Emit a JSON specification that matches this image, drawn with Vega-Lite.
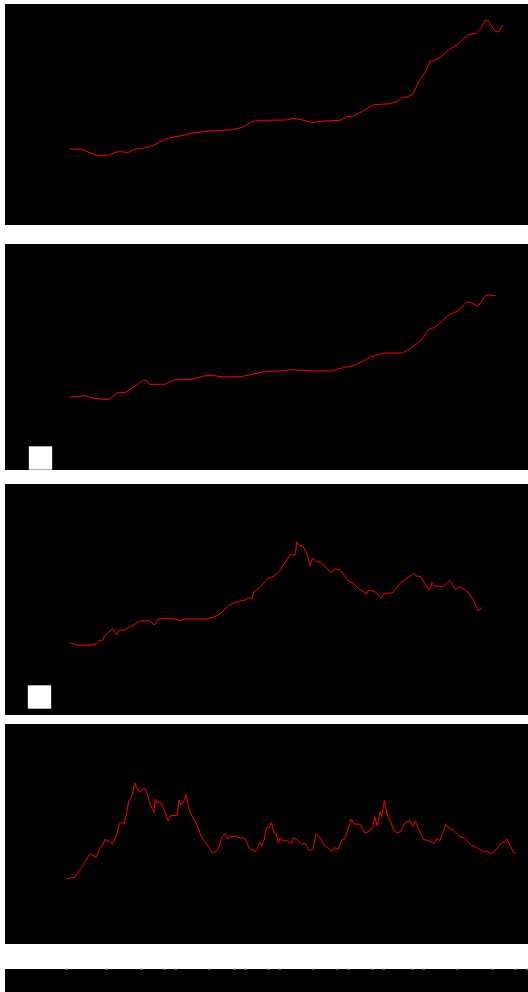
{
  "$schema": "https://vega.github.io/schema/vega-lite/v6.json",
  "background": "white",
  "padding": {"left": 5, "top": 4, "right": 0, "bottom": 0},
  "config": {"view": {"stroke": null, "fill": "black"}},
  "datasets": {
    "p1": [
      {"t":64.7,"v":76},{"t":75.8,"v":76},{"t":92.6,"v":69.3},{"t":102.1,"v":69.3},{"t":111.2,"v":73},{"t":116.2,"v":73.3},{"t":122.9,"v":72.3},{"t":129.7,"v":75.7},{"t":139.8,"v":77},{"t":149.9,"v":80.3},{"t":160,"v":86},{"t":170.1,"v":88.3},{"t":180.2,"v":90},{"t":186.9,"v":91.7},{"t":203.8,"v":94},{"t":227.3,"v":95.3},{"t":237.4,"v":97.7},{"t":247.5,"v":103.7},{"t":257.6,"v":104.7},{"t":281.2,"v":105},{"t":287.9,"v":106.7},{"t":294.7,"v":105.7},{"t":308.1,"v":102.3},{"t":314.9,"v":103.7},{"t":335.1,"v":104.7},{"t":341.8,"v":108.3},{"t":348.5,"v":109},{"t":358.6,"v":114.3},{"t":368.7,"v":120.3},{"t":385.6,"v":121.3},{"t":392.3,"v":123.3},{"t":397.4,"v":127.7},{"t":402.4,"v":128},{"t":407.5,"v":130.7},{"t":414.2,"v":144},{"t":420.9,"v":154},{"t":425,"v":164},{"t":429.3,"v":164.3},{"t":436.1,"v":168.3},{"t":444.5,"v":176},{"t":452.9,"v":180.7},{"t":463,"v":190.3},{"t":471.4,"v":191.7},{"t":475.8,"v":196.3},{"t":479.8,"v":204.3},{"t":483.2,"v":204.3},{"t":490.6,"v":193.3},{"t":494,"v":193.3},{"t":497.7,"v":200}
    ],
    "p2": [
      {"t":64.7,"v":72.7},{"t":79.2,"v":74.3},{"t":89.3,"v":71.7},{"t":102.7,"v":70.3},{"t":106.1,"v":71.7},{"t":112.2,"v":77.3},{"t":120.3,"v":77.3},{"t":128,"v":82.7},{"t":133,"v":85.7},{"t":138.1,"v":89.7},{"t":141.5,"v":89.3},{"t":144.2,"v":85.7},{"t":160,"v":85.7},{"t":168.4,"v":90},{"t":186.9,"v":90.7},{"t":200.4,"v":94.3},{"t":208.8,"v":94.3},{"t":218.9,"v":93},{"t":235.7,"v":93.3},{"t":247.5,"v":95.7},{"t":261,"v":98.7},{"t":276.1,"v":99},{"t":284.6,"v":100.3},{"t":308.1,"v":99},{"t":325,"v":99},{"t":338.4,"v":102.3},{"t":348.5,"v":104.3},{"t":360.3,"v":110},{"t":365.4,"v":113.7},{"t":368.7,"v":113.7},{"t":378.8,"v":117},{"t":397.4,"v":117},{"t":404.1,"v":120.7},{"t":415.9,"v":129.3},{"t":424.3,"v":141},{"t":429.3,"v":142.3},{"t":436.1,"v":148},{"t":444.5,"v":155.7},{"t":452.9,"v":159},{"t":461.3,"v":168},{"t":465.4,"v":167.7},{"t":471.4,"v":164.3},{"t":473.8,"v":165},{"t":480.9,"v":174.7},{"t":483.9,"v":175},{"t":490.6,"v":174.3}
    ],
    "p3": [
      {"t":65,"v":71.7},{"t":75,"v":69.7},{"t":86.7,"v":70},{"t":91.7,"v":71.7},{"t":94.3,"v":74.7},{"t":97.7,"v":74.7},{"t":99.3,"v":79},{"t":105,"v":84},{"t":107.3,"v":86.3},{"t":111.7,"v":80},{"t":114,"v":84.3},{"t":119,"v":85},{"t":126.7,"v":89},{"t":135,"v":94},{"t":145,"v":94.3},{"t":149.3,"v":90},{"t":153.3,"v":96},{"t":165,"v":97},{"t":176.7,"v":94.3},{"t":179,"v":96},{"t":200,"v":96},{"t":208.3,"v":97.7},{"t":215,"v":101},{"t":223.3,"v":109.3},{"t":231.7,"v":113.3},{"t":240,"v":115},{"t":243.7,"v":117.3},{"t":247,"v":116},{"t":249,"v":123.3},{"t":255,"v":127.7},{"t":263.3,"v":137},{"t":268.3,"v":138.3},{"t":275,"v":144.3},{"t":285,"v":160.3},{"t":290,"v":160},{"t":292,"v":173.3},{"t":293.3,"v":170.3},{"t":297.7,"v":169},{"t":301.7,"v":161.7},{"t":305.3,"v":149},{"t":307.3,"v":156.7},{"t":311.7,"v":153.3},{"t":315.7,"v":153},{"t":321.7,"v":146.7},{"t":325.7,"v":142.3},{"t":330,"v":146},{"t":335,"v":145.3},{"t":343.3,"v":134},{"t":348.3,"v":131.7},{"t":353.3,"v":126.7},{"t":361.7,"v":121},{"t":363.3,"v":125},{"t":370,"v":123.3},{"t":376,"v":116.7},{"t":379,"v":121.7},{"t":387.3,"v":122},{"t":395,"v":131.7},{"t":408.3,"v":141},{"t":411.7,"v":139},{"t":415.7,"v":138.3},{"t":423.3,"v":125.7},{"t":425,"v":125.3},{"t":427,"v":132.3},{"t":430,"v":129},{"t":437.7,"v":128.3},{"t":444.3,"v":134.3},{"t":445.7,"v":133.3},{"t":450,"v":125.7},{"t":455,"v":128.3},{"t":463.3,"v":122.7},{"t":468.3,"v":115},{"t":473.3,"v":104.3},{"t":477.3,"v":107.7}
    ],
    "p4": [
      {"t":61.7,"v":65.3},{"t":66.7,"v":66.3},{"t":70,"v":66.7},{"t":73.3,"v":72.3},{"t":76.7,"v":76.7},{"t":80,"v":82.3},{"t":84.3,"v":89.3},{"t":86.7,"v":89.3},{"t":91,"v":86.7},{"t":95,"v":95.7},{"t":97.7,"v":99},{"t":100,"v":104.7},{"t":105,"v":102.3},{"t":107.7,"v":100},{"t":111,"v":107.3},{"t":114.3,"v":119.7},{"t":116.3,"v":122},{"t":119,"v":120},{"t":121.7,"v":130.7},{"t":123.7,"v":143.3},{"t":125.7,"v":145},{"t":127.7,"v":150.7},{"t":129.7,"v":161.3},{"t":131.7,"v":155.7},{"t":135,"v":151.7},{"t":137.7,"v":155},{"t":140.3,"v":155.3},{"t":142.3,"v":150},{"t":145,"v":140},{"t":149,"v":131.7},{"t":150.3,"v":144.7},{"t":152.3,"v":140.7},{"t":155,"v":142.3},{"t":159,"v":134.7},{"t":163.3,"v":123},{"t":166,"v":128.7},{"t":172.3,"v":128.3},{"t":174,"v":144},{"t":175.7,"v":139},{"t":178.3,"v":141.3},{"t":181,"v":149.3},{"t":182.7,"v":140.7},{"t":185,"v":131.7},{"t":188.3,"v":125.7},{"t":191.7,"v":120},{"t":195,"v":110.7},{"t":198.3,"v":104},{"t":201.7,"v":100},{"t":207.7,"v":90.7},{"t":211.7,"v":93.3},{"t":214.3,"v":98},{"t":216.7,"v":107.3},{"t":220,"v":110},{"t":222.7,"v":104.7},{"t":225,"v":107.3},{"t":231.7,"v":107.3},{"t":235,"v":106.3},{"t":240,"v":105.7},{"t":244.3,"v":96},{"t":250,"v":92.3},{"t":252.3,"v":94.7},{"t":254.3,"v":101.7},{"t":256.7,"v":98},{"t":259,"v":104},{"t":261.7,"v":117.3},{"t":263.7,"v":115.7},{"t":266.3,"v":121.3},{"t":269,"v":111.3},{"t":271,"v":110.7},{"t":273.3,"v":100.7},{"t":275,"v":105.7},{"t":278.3,"v":103.3},{"t":281.7,"v":103.3},{"t":286.7,"v":100.7},{"t":288.3,"v":106.3},{"t":293.3,"v":103.3},{"t":296.7,"v":99.7},{"t":300,"v":100.7},{"t":304.3,"v":93.3},{"t":308.3,"v":95.7},{"t":311,"v":110},{"t":314.3,"v":107.3},{"t":318.3,"v":100},{"t":326.7,"v":92.3},{"t":329.3,"v":96.3},{"t":333.3,"v":94.7},{"t":336.7,"v":104},{"t":340,"v":105.7},{"t":343.3,"v":115.7},{"t":346,"v":124.7},{"t":349,"v":120},{"t":355,"v":119.7},{"t":360,"v":110.7},{"t":365,"v":113.3},{"t":367.7,"v":117.3},{"t":369.7,"v":126.7},{"t":372.3,"v":118},{"t":375,"v":132.3},{"t":376.7,"v":127.3},{"t":379.3,"v":143.3},{"t":382.3,"v":129},{"t":385.7,"v":122.3},{"t":389,"v":113},{"t":392.3,"v":111.3},{"t":395.7,"v":112.3},{"t":400,"v":121.7},{"t":403.3,"v":122.3},{"t":405,"v":123.3},{"t":407.7,"v":117.3},{"t":410.3,"v":122.7},{"t":413.3,"v":115.7},{"t":418.3,"v":104.7},{"t":423.3,"v":103.3},{"t":429,"v":100.7},{"t":431.7,"v":105.7},{"t":435,"v":103.3},{"t":441,"v":119.7},{"t":444.3,"v":115.7},{"t":448.3,"v":114},{"t":455,"v":107.3},{"t":460,"v":105.7},{"t":466.7,"v":98.3},{"t":471.7,"v":96.7},{"t":478.3,"v":92.3},{"t":482.3,"v":93.3},{"t":484.3,"v":90.7},{"t":488.3,"v":91.3},{"t":493.3,"v":97.3},{"t":496.7,"v":101.3},{"t":500,"v":102.3},{"t":501.7,"v":105},{"t":505,"v":99},{"t":508.3,"v":92},{"t":511,"v":90.7}
    ],
    "ticks5": [
      {"t":60.7},{"t":101},{"t":135.7},{"t":159},{"t":170},{"t":204.3},{"t":229.3},{"t":240},{"t":263},{"t":274},{"t":308.3},{"t":332.3},{"t":343.3},{"t":366.7},{"t":378},{"t":407.3},{"t":418},{"t":452.3},{"t":487},{"t":510},{"t":521.7}
    ],
    "sq2": [{"t":35.5,"v":12}],
    "sq3": [{"t":34.5,"v":18}]
  },
  "spacing": 19,
  "vconcat": [
    {
      "width": 523, "height": 221,
      "data": {"name": "p1"},
      "mark": {"type": "line", "color": "#ff0000", "strokeWidth": 1},
      "encoding": {
        "x": {"field": "t", "type": "quantitative", "scale": {"domain": [0, 523], "nice": false, "zero": false}, "axis": null},
        "y": {"field": "v", "type": "quantitative", "scale": {"domain": [0, 221], "nice": false, "zero": false}, "axis": null}
      }
    },
    {
      "spacing": 14,
      "vconcat": [
        {
          "width": 523, "height": 226,
          "encoding": {
            "x": {"field": "t", "type": "quantitative", "scale": {"domain": [0, 523], "nice": false, "zero": false}, "axis": null},
            "y": {"field": "v", "type": "quantitative", "scale": {"domain": [0, 226], "nice": false, "zero": false}, "axis": null}
          },
          "layer": [
            {"data": {"name": "p2"}, "mark": {"type": "line", "color": "#ff0000", "strokeWidth": 1}},
            {"data": {"name": "sq2"}, "mark": {"type": "square", "filled": true, "color": "white", "opacity": 1, "size": 545}}
          ]
        },
        {
          "spacing": 9,
          "vconcat": [
            {
              "width": 523, "height": 231,
              "encoding": {
                "x": {"field": "t", "type": "quantitative", "scale": {"domain": [0, 523], "nice": false, "zero": false}, "axis": null},
                "y": {"field": "v", "type": "quantitative", "scale": {"domain": [0, 231], "nice": false, "zero": false}, "axis": null}
              },
              "layer": [
                {"data": {"name": "p3"}, "mark": {"type": "line", "color": "#ff0000", "strokeWidth": 1}},
                {"data": {"name": "sq3"}, "mark": {"type": "square", "filled": true, "color": "white", "opacity": 1, "size": 545}}
              ]
            },
            {
              "spacing": 22,
              "vconcat": [
                {
                  "width": 523, "height": 220,
                  "data": {"name": "p4"},
                  "mark": {"type": "line", "color": "#ff0000", "strokeWidth": 1},
                  "encoding": {
                    "x": {"field": "t", "type": "quantitative", "scale": {"domain": [0, 523], "nice": false, "zero": false}, "axis": null},
                    "y": {"field": "v", "type": "quantitative", "scale": {"domain": [0, 220], "nice": false, "zero": false}, "axis": null}
                  }
                },
                {
                  "width": 523, "height": 23,
                  "data": {"name": "ticks5"},
                  "mark": {"type": "point", "opacity": 0},
                  "encoding": {
                    "x": {"field": "t", "type": "quantitative", "scale": {"domain": [0, 523], "nice": false, "zero": false},
                      "axis": {"orient": "top", "values": [60.7,101,135.7,159,170,204.3,229.3,240,263,274,308.3,332.3,343.3,366.7,378,407.3,418,452.3,487,510,521.7],
                        "labels": false, "domain": false, "grid": false, "title": null, "ticks": true, "tickSize": 1, "tickWidth": 3, "tickColor": "#c0c0c0"}}
                  }
                }
              ]
            }
          ]
        }
      ]
    }
  ]
}
